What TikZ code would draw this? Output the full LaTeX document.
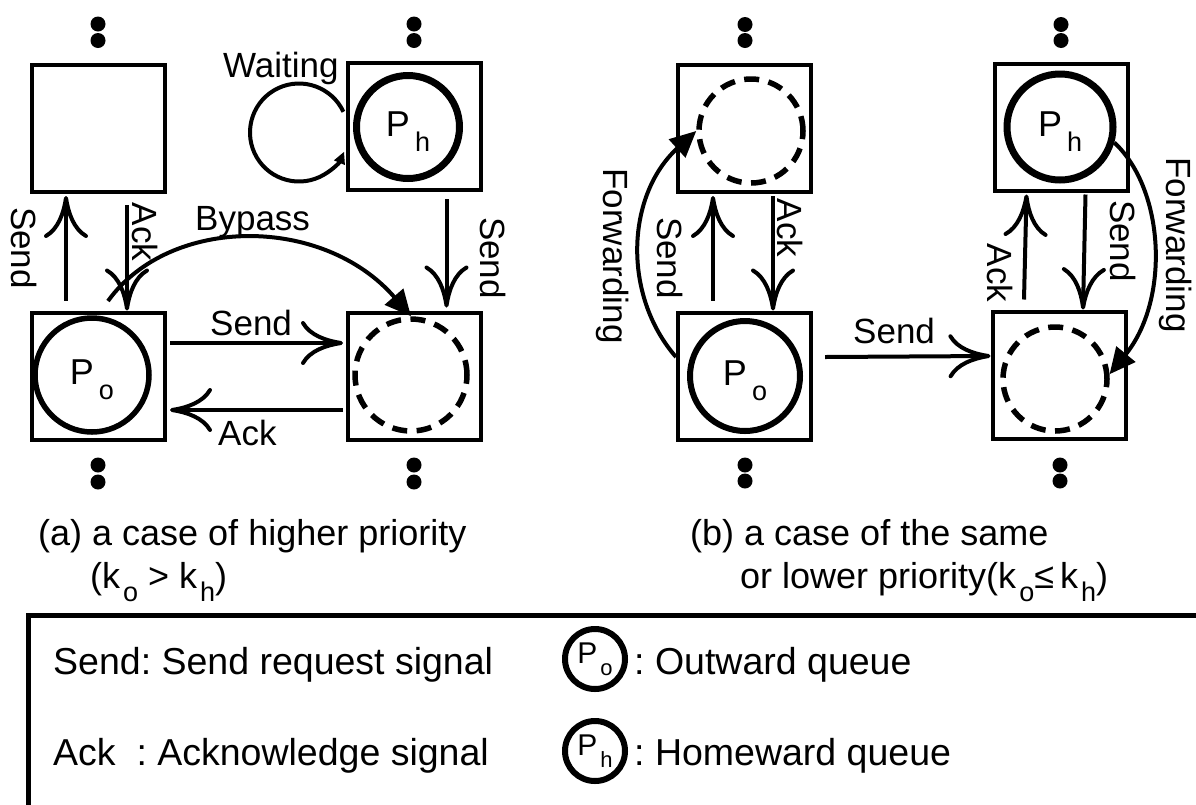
\documentclass[tikz,border=0pt]{standalone}
\usepackage{fontspec}
\setmainfont{Liberation Sans}
\usetikzlibrary{arrows.meta}
\frenchspacing
\newcommand{\bigq}[1]{P\kern5pt\raisebox{-15pt}[0pt][6pt]{\fontsize{27}{27}\selectfont #1}}
\newcommand{\smq}[1]{P\kern3pt\raisebox{-12pt}{\fontsize{22}{22}\selectfont #1}}
\newcommand{\csub}[1]{\kern3pt\raisebox{-13pt}{\fontsize{27}{27}\selectfont #1}}
\begin{document}
\begin{tikzpicture}[x=1pt,y=-1pt,
  qbox/.style={draw,line width=4pt,minimum width=133pt,minimum height=127pt,inner sep=0pt},
  qo/.style={circle,draw,line width=6pt,inner sep=0pt,font=\fontsize{36}{36}\selectfont},
  qh/.style={qo,line width=7pt},
  qd/.style={circle,draw,line width=5.5pt,dash pattern=on 15pt off 9.5pt,inner sep=0pt},
  sig/.style={line width=4pt,-{Computer Modern Rightarrow[length=42pt,width=44pt]}},
  fwd/.style={line width=4pt,-{Triangle[length=26pt,width=24pt]}},
  lbl/.style={inner sep=0pt,font=\fontsize{35}{40}\selectfont},
  hlbl/.style={lbl,anchor=base west},
  vlbl/.style={lbl,rotate=-90},
  captxt/.style={inner sep=0pt,font=\fontsize{36}{40}\selectfont,anchor=base west},
  legtxt/.style={inner sep=0pt,font=\fontsize{37.5}{40}\selectfont,anchor=base west},
  dotn/.style={circle,fill,minimum size=15pt,inner sep=0pt},
  lq/.style={circle,draw,line width=6pt,minimum size=60pt,inner sep=0pt,font=\fontsize{30}{30}\selectfont}
]
\useasboundingbox (0,0) rectangle (1196,804);
\clip (0,0) rectangle (1196,804);

% ---------- panel (a) ----------
\node[qbox] (A1) at (98.5,128.5) {};
\node[qbox] (A2) at (414.5,126.5) {};
\node[qbox] (A3) at (98.5,376) {};
\node[qbox] (A4) at (414.5,376) {};
\node[qh,minimum size=103pt] (qa2) at (408,127) {\bigq{h}};
\node[qo,minimum size=114pt,line width=5.5pt] (qa3) at (92,375) {\bigq{o}};
\node[qd,minimum size=112pt] (qa4) at (411,375) {};

\foreach \n/\x/\y in {da1/98/24,da2/98/40.5,da3/414/24,da4/414/40.5,
                      da5/98/465,da6/98/482,da7/414/465,da8/414/482}
  \node[dotn] (\n) at (\x,\y) {};

\draw[sig] ([xshift=-32.5pt,yshift=10pt]A3.north) -- ([xshift=-32.5pt,yshift=-2pt]A1.south);
\draw[sig] ([xshift=28.5pt,yshift=-11pt]A1.south) -- ([xshift=28.5pt]A3.north);
\draw[sig] ([xshift=32pt,yshift=-7pt]A2.south) -- ([xshift=32pt,yshift=3pt]A4.north);
\draw[sig] ([xshift=3pt,yshift=33pt]A3.east) -- ([xshift=-3pt,yshift=33pt]A4.west);
\draw[sig] ([xshift=-3pt,yshift=-34pt]A4.west) -- ([xshift=3pt,yshift=-34pt]A3.east);

\coordinate (byS) at (108,301);
\draw[fwd] (byS) .. controls (170,215) and (323,215) .. (qa4.north);

\coordinate (wS) at (343.4,111.8);
\draw[line width=4pt,-{Triangle[length=12pt,width=11pt]}] (wS) arc[start angle=25,end angle=337,radius=49pt];

\node[hlbl] (tw) at (223,77) {Waiting};
\node[hlbl] (tb) at (195,230) {Bypass};
\node[hlbl] (ts1) at (210,335) {Send};
\node[hlbl] (ta1) at (218,445) {Ack};
\node[vlbl] (ts2) at (24,248) {Send};
\node[vlbl] (ta2) at (145,232) {Ack};
\node[vlbl] (ts3) at (493,258) {Send};

\node[captxt] (capa1) at (38,545) {(a) a case of higher priority};
\node[captxt] (capa2) at (90,588) {(k\csub{o} > k\csub{h})};

% ---------- panel (b) ----------
\node[qbox] (B1) at (744.5,128.5) {};
\node[qbox] (B2) at (1061.5,127) {};
\node[qbox] (B3) at (744.5,376) {};
\node[qbox] (B4) at (1059,375) {};
\node[qd,minimum size=104pt] (qb1) at (751,131) {};
\node[qh,minimum size=106pt] (qb2) at (1060,127) {\bigq{h}};
\node[qo,minimum size=110pt] (qb3) at (745,376) {\bigq{o}};
\node[qd,minimum size=104pt] (qb4) at (1055,379) {};

\foreach \n/\x/\y in {db1/745/24.5,db2/745/40.5,db3/1061/24.5,db4/1061/40.5,
                      db5/745/465,db6/745/481,db7/1060/465,db8/1060/481}
  \node[dotn] (\n) at (\x,\y) {};

\draw[sig] ([xshift=-31.5pt,yshift=10pt]B3.north) -- ([xshift=-31.5pt,yshift=-2pt]B1.south);
\draw[sig] ([xshift=28.5pt,yshift=-2pt]B1.south) -- ([xshift=28.5pt]B3.north);
\draw[sig] ([xshift=-35pt,yshift=10pt]B4.north) -- ([xshift=-35pt,yshift=-2pt]B2.south);
\draw[sig] ([xshift=24pt,yshift=-2pt]B2.south) -- ([xshift=24pt]B4.north);
\draw[sig] ([xshift=12pt,yshift=19pt]B3.east) -- ([yshift=19pt]B4.west);

\draw[fwd] ([yshift=19pt]B3.west) .. controls (622,295) and (626,195) .. (qb1.west);
\draw[fwd] (qb2.-16) .. controls (1165,190) and (1170,300) .. (qb4.5);

\node[hlbl] (ts4) at (853,343) {Send};
\node[vlbl] (tf1) at (613,256) {Forwarding};
\node[vlbl] (ts5) at (670,258) {Send};
\node[vlbl] (ta3) at (790,228) {Ack};
\node[vlbl] (ta4) at (1000,273) {Ack};
\node[vlbl] (ts6) at (1123,241) {Send};
\node[vlbl] (tf2) at (1176,245) {Forwarding};

\node[captxt] (capb1) at (690,545) {(b) a case of the same};
\node[captxt] (capb2) at (740,588) {or lower priority(k\csub{o}≤\,k\csub{h})};

% ---------- legend ----------
\draw[line width=5pt] (28,615) rectangle (1300,1000);
\node[legtxt] (l1) at (53,674) {Send: Send request signal};
\node[legtxt] (l2) at (53,765) {Ack\ \ : Acknowledge signal};
\node[lq] (lo) at (595,659) {\smq{o}};
\node[lq] (lh) at (595,751) {\smq{h}};
\node[legtxt] (l3) at (634,674) {: Outward queue};
\node[legtxt] (l4) at (634,765) {: Homeward queue};
\end{tikzpicture}
\end{document}
